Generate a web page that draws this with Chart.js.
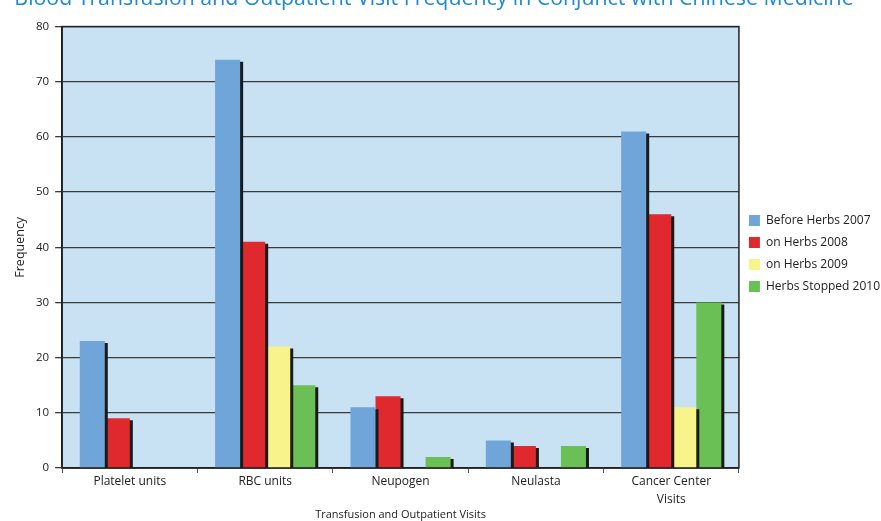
<!DOCTYPE html>
<html>
<head>
<meta charset="utf-8">
<script src="https://cdn.jsdelivr.net/npm/chart.js@4.4.1/dist/chart.umd.min.js"></script>
<style>
  html, body { margin: 0; padding: 0; background: #fff; overflow: hidden; }
  #wrap { position: relative; top: -14px; width: 881px; height: 535px; }
</style>
</head>
<body>
<div id="wrap"><canvas id="chart"></canvas></div>
<script>
const categories = ["Platelet units", "RBC units", "Neupogen", "Neulasta", ["Cancer Center", "Visits"]];
const seriesNames = ["Before Herbs 2007", "on Herbs 2008", "on Herbs 2009", "Herbs Stopped 2010"];
const before2007 = [23, 74, 11, 5, 61];
const herbs2008 = [9, 41, 13, 4, 46];
const herbs2009 = [0, 22, 0, 0, 11];
const stopped2010 = [0, 15, 2, 4, 30];
const yTicks = [0, 10, 20, 30, 40, 50, 60, 70, 80];

const colors = ["#6fa5d8", "#e0282f", "#f8f48c", "#6abf55"];
const seriesData = [before2007, herbs2008, herbs2009, stopped2010];

const plotBg = {
  id: "plotBg",
  afterLayout(chart) {
    // title in the original sits a bit left of the canvas centre
    const t = chart.titleBlock;
    if (t) t.right = 2 * 434 - t.left;
  },
  beforeDraw(chart) {
    const { ctx, chartArea: a } = chart;
    ctx.save();
    ctx.fillStyle = "#c8e2f4";
    ctx.fillRect(a.left, a.top, a.right - a.left, a.bottom - a.top);
    ctx.restore();
  },
  beforeDatasetsDraw(chart) {
    const { ctx, chartArea: a } = chart;
    ctx.save();
    ctx.strokeStyle = "#222";
    ctx.lineWidth = 1.5;
    ctx.strokeRect(a.left, a.top, a.right - a.left, a.bottom - a.top);
    ctx.restore();
  },
  beforeDatasetDraw(chart) {
    const ctx = chart.ctx;
    ctx.save();
    ctx.shadowColor = "#1a1a1a";
    ctx.shadowOffsetX = 3;
    ctx.shadowOffsetY = 2;
    ctx.shadowBlur = 0;
  },
  afterDatasetDraw(chart) {
    chart.ctx.restore();
  }
};

new Chart(document.getElementById("chart"), {
  type: "bar",
  data: {
    labels: categories,
    datasets: seriesNames.map((name, i) => ({
      label: name,
      data: seriesData[i],
      backgroundColor: colors[i],
      borderWidth: 0,
      barPercentage: 1,
      categoryPercentage: 0.74
    }))
  },
  options: {
    responsive: true,
    maintainAspectRatio: false,
    animation: false,
    layout: { padding: { left: 7, right: -9, top: 0, bottom: 0 } },
    plugins: {
      title: {
        display: true,
        text: "Blood Transfusion and Outpatient Visit Frequency in Conjunct with Chinese Medicine",
        color: "#1e8ad2",
        font: { family: "Open Sans", size: 21.3, weight: "normal" },
        padding: { top: 0, bottom: 15 }
      },
      legend: {
        position: "right",
        labels: {
          boxWidth: 11,
          boxHeight: 11,
          padding: 10,
          color: "#222",
          font: { family: "Open Sans", size: 12 }
        }
      },
      tooltip: { enabled: false }
    },
    scales: {
      x: {
        grid: { display: true, drawOnChartArea: false, offset: true, color: "#555", tickLength: 5 },
        border: { color: "#222", width: 1.5 },
        ticks: { color: "#222", font: { family: "Open Sans", size: 12, lineHeight: 1.45 }, maxRotation: 0, padding: 0 },
        title: {
          display: true,
          text: "Transfusion and Outpatient Visits",
          color: "#222",
          font: { family: "Open Sans", size: 11 },
          padding: { top: 0, bottom: 0 }
        }
      },
      y: {
        min: 0,
        max: 80,
        afterBuildTicks(scale) { scale.ticks = yTicks.map(v => ({ value: v })); },
        grid: { color: "#3a3a3a", lineWidth: 1.3, tickLength: 7 },
        border: { color: "#222", width: 1.5 },
        ticks: { color: "#222", font: { family: "Open Sans", size: 11.5 }, padding: 6 },
        title: {
          display: true,
          text: "Frequency",
          color: "#222",
          font: { family: "Open Sans", size: 12.5 },
          padding: { top: 6, bottom: 2 }
        }
      }
    }
  },
  plugins: [plotBg]
});
</script>
</body>
</html>
